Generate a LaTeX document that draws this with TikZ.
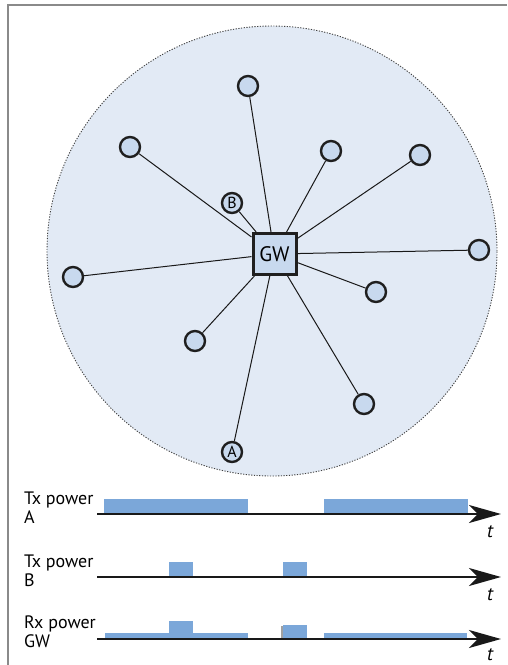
\documentclass[tikz,border=0pt]{standalone}
\usepackage{fontspec}
\setmainfont{PT Sans}
\usetikzlibrary{arrows.meta}
\definecolor{cellblue}{HTML}{E2EAF5}
\definecolor{nodeblue}{HTML}{C8D9EE}
\definecolor{barblue}{HTML}{7BA7D9}
\definecolor{framegray}{HTML}{8A8A8A}
\tikzset{
  sta/.style={circle, draw=black!88, line width=2.4pt, fill=nodeblue, minimum size=20pt, inner sep=0pt, font=\fontsize{16}{16}\selectfont},
  gwbox/.style={draw=black!88, line width=3pt, fill=nodeblue, minimum width=43pt, minimum height=41pt, inner sep=0pt, font=\fontsize{21}{21}\selectfont},
  link/.style={line width=1pt, black!90},
  bar/.style={fill=barblue},
  axis/.style={line width=2pt, black!90, -{Stealth[length=32pt, width=18pt, inset=9pt]}},
  lbl/.style={anchor=base west, inner sep=0pt, font=\fontsize{18}{18}\selectfont},
  tlbl/.style={anchor=base, inner sep=0pt, font=\fontsize{19}{19}\selectfont\itshape}
}
\begin{document}
\begin{tikzpicture}[x=1pt, y=-1pt]
\useasboundingbox (0,0) rectangle (507,665);
% frame
\draw[framegray, line width=2pt] (8,665) -- (8,5) -- (507,5);
% coverage area
\draw[fill=cellblue, draw=black!75, line width=0.9pt, dash pattern=on 1.2pt off 1.5pt] (272,251) circle[radius=225pt];
% gateway and stations
\node[gwbox] (gw) at (274.5,254) {GW};
\node[sta] (s1) at (248,86) {};
\node[sta] (s2) at (130,147) {};
\node[sta] (s3) at (331,151) {};
\node[sta] (s4) at (420,155) {};
\node[sta] (sb) at (232,203) {B};
\node[sta] (s5) at (479,250) {};
\node[sta] (s6) at (73,277) {};
\node[sta] (s7) at (376,292) {};
\node[sta] (s8) at (195,341) {};
\node[sta] (s9) at (364,404) {};
\node[sta] (sa) at (232,452) {A};
\foreach \s in {s1,s2,s3,s4,sb,s5,s6,s7,s8,s9,sa}
  \draw[link] (\s) -- (gw);
% timing axes
\coordinate (a1s) at (97,514);  \coordinate (a1e) at (501,514);
\coordinate (a2s) at (97,577);  \coordinate (a2e) at (501,577);
\coordinate (a3s) at (97,639);  \coordinate (a3e) at (501,639);
% Tx power A
\fill[bar] (104,499) rectangle (248,514);
\fill[bar] (324,499) rectangle (468,514);
% Tx power B
\fill[bar] (169,562) rectangle (193,577);
\fill[bar] (283,562) rectangle (307,577);
% Rx power GW
\fill[bar] (105,633) rectangle (248,639);
\fill[bar] (169,621) rectangle (193,639);
\fill[framegray!80] (281,626) rectangle (283,639);
\fill[bar] (283,625) rectangle (307,639);
\fill[bar] (324,633) rectangle (467,639);
\draw[axis] (a1s) -- (a1e);
\draw[axis] (a2s) -- (a2e);
\draw[axis] (a3s) -- (a3e);
% labels
\node[lbl] (l1a) at (24,504) {Tx power};
\node[lbl] (l1b) at (24,523) {A};
\node[lbl] (l2a) at (24,567) {Tx power};
\node[lbl] (l2b) at (24,586) {B};
\node[lbl] (l3a) at (24,628) {Rx power};
\node[lbl] (l3b) at (24,647) {GW};
\node[tlbl] (t1) at (490,537) {t};
\node[tlbl] (t2) at (490,600) {t};
\node[tlbl] (t3) at (490,660) {t};
\end{tikzpicture}
\end{document}
